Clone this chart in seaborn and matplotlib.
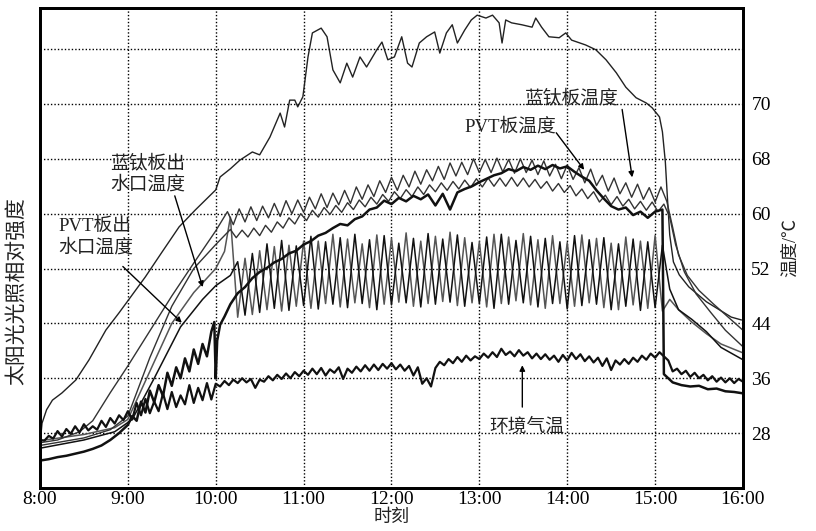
import numpy as np
import pandas as pd
import seaborn as sns
import matplotlib.pyplot as plt

# all times are minutes after 8:00, temperatures in degC (right axis),
# solar intensity is relative (0-1 of the frame height, left axis)

solar_min = [0, 1.4, 4.5, 8.5, 15, 24.5, 33.5, 45, 54, 60.5, 72, 83, 95, 106, 120, 123,
             130, 136.5, 145, 150, 157, 164, 167, 170.5, 174, 176, 179.5, 183, 186, 192,
             196, 200, 205, 209.5, 213.5, 218.5, 223, 230, 233.5, 237.5, 242, 247, 251,
             254, 259, 264, 269.5, 273, 277.5, 281.5, 285, 290, 294.5, 298.5, 304.5, 309,
             313.5, 315.5, 318, 322, 329, 336, 338.5, 342.5, 347.5, 354.5, 359, 363,
             372.5, 379.5, 386.5, 393.5, 400, 407, 414, 418, 423, 425, 427, 428.5, 430,
             432.5, 436.5, 443, 455, 464, 472, 479]
solar_rel = [0.09, 0.135, 0.163, 0.183, 0.198, 0.225, 0.267, 0.329, 0.365, 0.392, 0.44, 0.49,
             0.544, 0.579, 0.621, 0.648, 0.665, 0.683, 0.700, 0.694, 0.731, 0.781, 0.752,
             0.808, 0.808, 0.794, 0.815, 0.898, 0.948, 0.958, 0.94, 0.871, 0.844, 0.885,
             0.856, 0.898, 0.877, 0.913, 0.929, 0.892, 0.898, 0.94, 0.885, 0.877, 0.927,
             0.94, 0.95, 0.906, 0.948, 0.965, 0.927, 0.954, 0.975, 0.985, 0.979, 0.985,
             0.969, 0.927, 0.975, 0.969, 0.965, 0.96, 0.979, 0.96, 0.94, 0.938, 0.948,
             0.933, 0.923, 0.913, 0.892, 0.865, 0.835, 0.813, 0.802, 0.792, 0.773, 0.742,
             0.679, 0.6, 0.527, 0.471, 0.444, 0.419, 0.388, 0.371, 0.356, 0.35]

# 蓝钛板温度 (zigzag)
bt_pre_min = [0, 12, 27, 36, 48, 60, 75, 90, 105, 120]
bt_pre_val = [26.6, 27.0, 28.2, 29.8, 33.9, 37.8, 42.9, 48.0, 52.8, 57.5]
bt_peak = [60.3, 60.7, 61.0, 61.1, 61.5, 61.9, 62.0, 62.4, 62.9, 63.0, 63.4, 63.9, 64.2,
           64.8, 65.3, 65.6, 66.2, 66.4, 66.9, 67.4, 67.5, 68.0, 67.9, 68.1, 67.9, 68.0,
           67.8, 67.7, 67.2, 67.1, 66.7, 66.5, 65.6, 65.2, 64.5, 64.3, 63.8, 63.9]
bt_trough = [58.4, 58.8, 59.0, 59.4, 59.6, 60.0, 60.2, 60.7, 60.9, 61.3, 61.5, 62.1, 62.5,
             63.1, 63.4, 63.9, 64.3, 64.8, 65.0, 65.5, 65.7, 66.0, 66.0, 66.1, 65.9, 66.0,
             65.7, 65.5, 65.1, 65.0, 64.5, 64.1, 63.3, 62.9, 62.4, 62.1, 61.7]
bt_post_min = [428, 432, 436, 442, 450, 460, 470, 480]
bt_post_val = [61.8, 58.0, 54.0, 51.0, 48.8, 46.8, 44.9, 43.0]

# second plate curve (small zigzag)
p2_pre_min = [0, 30, 48, 60, 75, 90, 105, 120]
p2_pre_val = [26.2, 27.3, 28.5, 30.5, 39.0, 46.5, 52.0, 55.5]
p2_peak = [57.7, 57.6, 57.9, 58.3, 58.8, 59.4, 60.0, 60.5, 60.9, 61.2, 61.6, 62.0, 62.4,
           62.8, 63.2, 63.5, 63.9, 64.2, 64.5, 64.7, 64.9, 65.1, 65.2, 65.2, 65.3, 65.2,
           65.0, 64.7, 64.4, 64.1, 63.6, 63.2, 62.7, 62.5, 62.1, 61.8, 61.7, 61.4]
p2_trough = [56.5, 56.6, 56.8, 57.3, 57.9, 58.5, 59.0, 59.5, 59.9, 60.2, 60.6, 61.0, 61.4,
             61.8, 62.2, 62.5, 62.8, 63.2, 63.4, 63.6, 63.8, 63.9, 64.0, 64.0, 64.0, 63.9,
             63.7, 63.3, 63.1, 62.6, 62.2, 61.7, 61.3, 61.1, 60.7, 60.5, 60.3]
p2_post_min = [430, 434, 440, 448, 458, 468, 480]
p2_post_val = [59.5, 55.5, 51.5, 48.3, 45.6, 43.0, 40.6]

# 蓝钛板出水口温度
oa_pre_min = [0, 30, 51, 60, 75, 90, 105, 120, 126]
oa_pre_val = [26.9, 27.8, 28.8, 30.0, 37.0, 44.0, 48.5, 52.0, 54.5]
oa_peak = [59.5, 53.5, 54.6, 55.2, 55.4, 56.0, 56.0, 57.0, 56.3, 55.6, 56.9, 56.4, 57.2,
           56.0, 56.7, 57.3, 56.5, 55.9, 57.0, 56.6, 57.1, 56.2, 56.8, 55.8, 56.9, 56.4,
           55.7, 56.6, 56.0, 56.8]
oa_trough = [44.9, 45.3, 46.0, 45.8, 46.5, 46.2, 46.9, 46.4, 47.0, 46.3, 46.8, 47.1, 46.5,
             46.9, 47.2, 46.6, 47.0, 46.4, 46.9, 47.3, 46.7, 46.2, 46.9, 46.5, 47.0, 46.3,
             46.0, 46.7, 46.2, 45.8]
oa_post_min = [430, 436, 445, 455, 465, 480]
oa_post_val = [47.5, 46.0, 44.2, 42.5, 41.0, 39.7]

# PVT板出水口温度
ob_pre_min = [0, 30, 51, 63, 78, 96, 111, 120]
ob_pre_val = [25.8, 27.0, 28.2, 30.0, 36.0, 43.5, 47.5, 49.5]
ob_peak = [53.0, 54.2, 55.6, 56.1, 55.3, 56.7, 55.9, 56.5, 57.0, 56.2, 56.8, 55.7, 56.4,
           57.1, 56.3, 56.9, 55.8, 56.6, 57.0, 56.1, 56.7, 56.4, 55.9, 56.8, 56.2, 56.5,
           55.6, 56.3, 55.9, 55.4]
ob_trough = [51.0, 45.2, 45.6, 46.2, 45.9, 46.6, 46.1, 46.8, 46.3, 46.9, 46.0, 46.7, 47.0,
             46.4, 46.8, 47.1, 46.5, 46.9, 46.2, 46.8, 47.0, 46.4, 46.9, 46.1, 46.6, 46.8,
             46.0, 46.5, 45.9, 46.3]
ob_post_min = [430, 436, 445, 455, 465, 480]
ob_post_val = [49.0, 46.0, 44.6, 42.8, 40.5, 38.7]

# PVT板温度 (thick, noisy)
pvt_min = [0, 6, 12, 18, 24, 30, 36, 42, 48, 54, 60, 63, 66, 69, 72, 75, 78, 81, 84, 87,
           90, 93, 96, 99, 102, 105, 108, 111, 114, 117, 119, 120, 121, 123, 126, 130, 135,
           140, 145, 150, 155, 160, 165, 170, 175, 180, 185, 190, 195, 200, 205, 210, 215,
           220, 225, 230, 235, 240, 245, 250, 255, 260, 265, 270, 275, 280, 285, 290, 295,
           300, 305, 310, 315, 320, 325, 330, 335, 340, 345, 350, 355, 360, 365, 370, 375,
           380, 385, 390, 395, 400, 405, 410, 415, 420, 425, 426, 432, 438, 444, 450, 456,
           462, 468, 474, 480]
pvt_val = [24.0, 24.2, 24.5, 24.7, 25.0, 25.3, 25.7, 26.2, 27.0, 28.0, 29.2, 30.5, 29.8,
           32.6, 31.0, 34.2, 32.5, 35.0, 33.4, 36.8, 34.9, 37.6, 36.0, 38.9, 37.0, 40.2,
           38.1, 41.0, 39.2, 42.8, 44.2, 36.0, 41.5, 43.8, 45.0, 46.8, 48.4, 49.3, 50.6,
           51.5, 52.1, 52.9, 53.4, 54.2, 54.6, 55.5, 56.0, 56.8, 57.2, 57.9, 58.5, 58.3,
           59.2, 59.6, 60.6, 60.9, 61.9, 61.4, 62.3, 61.8, 62.6, 62.1, 62.8, 61.2, 62.9,
           60.6, 63.1, 63.6, 64.0, 64.6, 65.1, 65.6, 65.9, 66.5, 66.2, 66.8, 66.4, 67.0,
           66.5, 67.1, 66.6, 66.9, 66.1, 65.4, 64.8, 63.4, 62.2, 61.1, 60.6, 60.9, 59.8,
           60.3, 59.4, 60.3, 60.6, 36.6, 35.4, 35.0, 34.8, 34.9, 34.4, 34.5, 34.1, 34.0,
           33.8]

# 环境气温, one reading every 3 minutes
amb_val = [27.0, 26.9, 27.6, 27.2, 28.3, 27.5, 28.6, 27.9, 29.0, 28.1, 29.3, 28.4, 29.0,
           28.5, 29.8, 28.9, 30.2, 29.4, 30.6, 29.9, 31.2, 30.0, 32.4, 30.6, 33.0, 30.9,
           32.6, 31.2, 33.8, 31.5, 34.0, 31.8, 33.5, 32.2, 35.0, 32.4, 34.6, 32.8, 35.3,
           32.9, 35.2, 34.8, 35.6, 35.0, 35.8, 35.3, 36.0, 35.4, 35.9, 34.6, 35.8, 35.5,
           36.3, 35.7, 36.5, 35.9, 36.7, 36.0, 36.9, 36.3, 37.1, 36.5, 37.4, 36.6, 37.5,
           36.4, 37.3, 36.8, 37.6, 35.9, 37.4, 36.8, 37.7, 37.0, 37.9, 37.1, 38.0, 37.2,
           38.1, 37.4, 38.2, 37.3, 38.0, 37.1, 37.8, 36.4, 37.6, 35.2, 36.0, 34.8, 37.5,
           38.4, 37.9, 38.8, 38.2, 39.1, 38.4, 39.3, 38.6, 39.2, 38.8, 39.6, 39.0, 39.8,
           39.1, 40.3, 39.4, 39.9, 39.2, 40.1, 39.3, 39.8, 38.9, 39.6, 38.8, 39.5, 38.7,
           39.3, 38.4, 39.4, 38.6, 39.7, 38.8, 39.5, 38.5, 39.2, 38.3, 39.0, 37.8, 38.9,
           37.2, 38.6, 38.0, 38.8, 38.1, 39.0, 38.4, 39.3, 38.7, 39.6, 39.0, 39.8, 39.2,
           38.6, 37.0, 37.4, 36.6, 37.1, 36.2, 36.8, 36.0, 36.5, 35.7, 36.3, 35.5, 36.1,
           35.4, 36.0, 35.3, 35.9, 35.5]
amb_min = np.arange(0, 481, 3)

hour_ticks = list(range(8, 17))
hour_labels = [f"{h}:00" for h in hour_ticks]
temp_ticks = [28, 36, 44, 52, 60, 68, 76, 84]
temp_labels = ["28", "36", "44", "52", "60", "68", "70", ""]


def hours(m):
    return 8 + np.asarray(m, dtype=float) / 60.0


def build(pre_m, pre_v, pk_m, pk_v, tr_m, tr_v, post_m, post_v):
    df = pd.DataFrame({
        "m": list(pre_m) + list(pk_m) + list(tr_m) + list(post_m),
        "v": list(pre_v) + list(pk_v) + list(tr_v) + list(post_v),
    }).sort_values("m")
    return hours(df["m"]), df["v"].to_numpy()


series = {
    "bt": build(bt_pre_min, bt_pre_val, np.arange(128, 425, 8), bt_peak,
                np.arange(132, 421, 8), bt_trough, bt_post_min, bt_post_val),
    "p2": build(p2_pre_min, p2_pre_val, np.arange(130, 427, 8), p2_peak,
                np.arange(134, 423, 8), p2_trough, p2_post_min, p2_post_val),
    "oa": build(oa_pre_min, oa_pre_val, np.arange(130, 421, 10), oa_peak,
                np.arange(135, 426, 10), oa_trough, oa_post_min, oa_post_val),
    "ob": build(ob_pre_min, ob_pre_val, np.arange(135, 426, 10), ob_peak,
                np.arange(130, 421, 10), ob_trough, ob_post_min, ob_post_val),
}

sns.set_theme(style="white")
CJK = ["Liberation Serif", "Noto Sans CJK SC"]
plt.rcParams["font.family"] = CJK

fig = plt.figure(figsize=(8.16, 5.31), dpi=100)
ax = fig.add_axes([0.049, 0.081, 0.8615, 0.904])
ax_t = ax.twinx()

# solar relative intensity on the left axis
sns.lineplot(x=hours(solar_min), y=solar_rel, ax=ax, color="#222222", linewidth=1.0,
             sort=False, estimator=None)
ax.set_ylim(0, 1)
ax.set_xlim(8, 16)
ax.set_yticks([])
ax.set_xticks(hour_ticks)
ax.set_xticklabels(hour_labels, fontsize=14, family="Liberation Serif")
ax.tick_params(axis="x", length=0, pad=2, colors="black")
ax.grid(axis="x", color="black", linestyle=(0, (1, 1.5)), linewidth=1.0)
ax.set_ylabel("太阳光光照相对强度", fontsize=15, family=CJK, color="#222222")
ax.yaxis.set_label_coords(-0.018, 0.41)
ax.set_xlabel("时刻", fontsize=13, family=CJK, color="#222222")
ax.xaxis.set_label_coords(0.5, -0.044)

# temperatures on the right axis
sns.lineplot(x=series["oa"][0], y=series["oa"][1], ax=ax_t, color="#555555", linewidth=1.1,
             sort=False, estimator=None)
sns.lineplot(x=series["ob"][0], y=series["ob"][1], ax=ax_t, color="#111111", linewidth=1.1,
             sort=False, estimator=None)
sns.lineplot(x=series["p2"][0], y=series["p2"][1], ax=ax_t, color="#333333", linewidth=1.0,
             sort=False, estimator=None)
sns.lineplot(x=series["bt"][0], y=series["bt"][1], ax=ax_t, color="#333333", linewidth=1.0,
             sort=False, estimator=None)
sns.lineplot(x=hours(pvt_min), y=pvt_val, ax=ax_t, color="#111111", linewidth=1.8,
             sort=False, estimator=None)
sns.lineplot(x=hours(amb_min), y=amb_val, ax=ax_t, color="#111111", linewidth=1.6,
             sort=False, estimator=None)

ax_t.set_ylim(20, 90)
ax_t.set_yticks(temp_ticks)
ax_t.set_yticklabels(temp_labels, fontsize=14, family="Liberation Serif")
ax_t.tick_params(axis="y", length=0, pad=6, colors="black")
ax_t.grid(axis="y", color="black", linestyle=(0, (1, 1.5)), linewidth=1.0)
ax_t.set_ylabel("温度/℃", fontsize=13, family=CJK, color="#222222", rotation=90)
ax_t.yaxis.set_label_coords(1.055, 0.5)

for a in (ax, ax_t):
    for s in a.spines.values():
        s.set_color("black")
        s.set_linewidth(2.0)

# annotations (text position, arrow start, arrow tip) in hours / degC
notes = [
    ("蓝钛板出\n水口温度", (8.795, 68.6), (9.534, 62.6), (9.852, 49.3)),
    ("PVT板出\n水口温度", (8.205, 59.4), (8.943, 52.3), (9.614, 44.1)),
    ("蓝钛板温度", (13.51, 78.1), (14.625, 75.2), (14.739, 65.3)),
    ("PVT板温度", (12.83, 74.0), (13.875, 71.8), (14.193, 66.4)),
    ("环境气温", (13.11, 30.2), (13.489, 31.8), (13.489, 37.9)),
]
for label, pos, start, tip in notes:
    ax_t.text(pos[0], pos[1], label, fontsize=13.5, family=CJK, ha="left", va="top",
              linespacing=1.25, color="#222222")
    ax_t.annotate("", xy=tip, xytext=start,
                  arrowprops=dict(arrowstyle="-|>", color="black", lw=1.0,
                                  mutation_scale=8, shrinkA=0, shrinkB=0))

fig.savefig("out.png", dpi=100)
